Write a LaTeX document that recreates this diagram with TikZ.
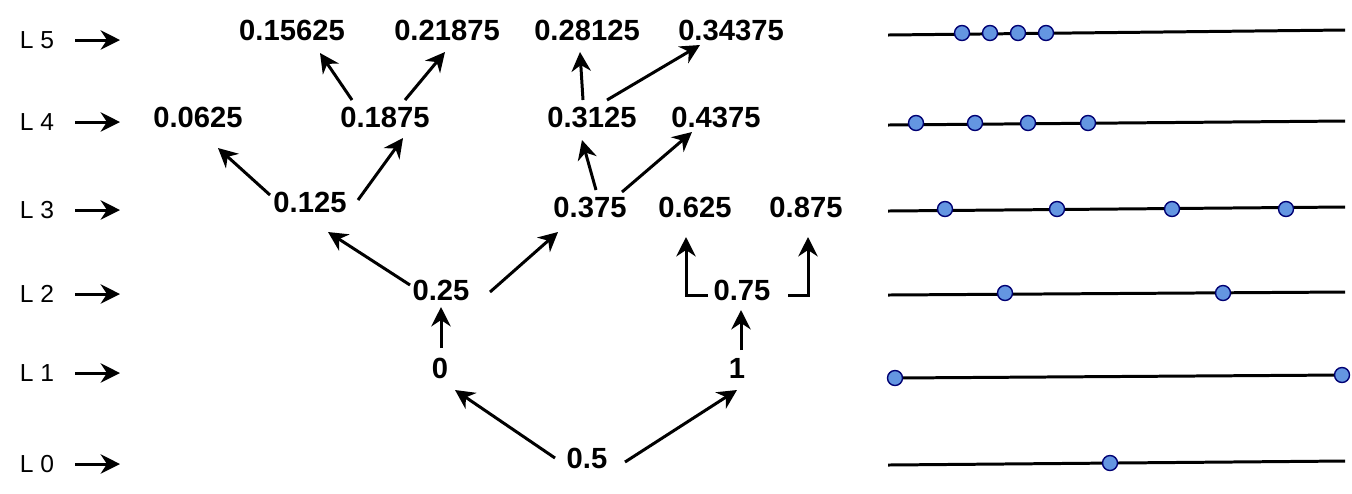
\documentclass[tikz,border=0pt]{standalone}
\usepackage{fontspec}
\usetikzlibrary{arrows.meta}
\setmainfont{Liberation Sans}
\begin{document}
\begin{tikzpicture}[x=0.01cm,y=-0.01cm,
 num/.style={font=\fontsize{8.3pt}{9pt}\selectfont\bfseries},
 lab/.style={font=\fontsize{7pt}{8pt}\selectfont},
 arr/.style={-{Stealth[length=5.5pt,width=5.5pt]},line width=0.85pt},
 ln/.style={line width=0.85pt},
 dot/.style={circle,draw=blue!45!black,fill={rgb,255:red,100;green,150;blue,225},inner sep=0pt,minimum size=0.15cm,line width=0.4pt}]
\useasboundingbox (0,0) rectangle (1352,493);
% level labels
\foreach \n/\y in {5/40,4/122,3/210,2/294,1/373,0/464}{
 \node[lab] (L\n) at (37,\y) {L \n};
 \draw[arr] (75,\y) -- (120,\y);}
% numbers
\node[num] (a1) at (292,30) {0.15625};
\node[num] (a2) at (447,30) {0.21875};
\node[num] (a3) at (587,30) {0.28125};
\node[num] (a4) at (731,30) {0.34375};
\node[num] (b1) at (198,117) {0.0625};
\node[num] (b2) at (385,117) {0.1875};
\node[num] (b3) at (592,117) {0.3125};
\node[num] (b4) at (716,117) {0.4375};
\node[num] (c1) at (310,202) {0.125};
\node[num] (c2) at (590,207) {0.375};
\node[num] (c3) at (695,207) {0.625};
\node[num] (c4) at (806,207) {0.875};
\node[num] (d1) at (441,290) {0.25};
\node[num] (d2) at (742,290) {0.75};
\node[num] (e1) at (440,368) {0};
\node[num] (e2) at (737,368) {1};
\node[num] (f) at (587,458) {0.5};
% arrows
\draw[arr] (555,458) -- (455,390);
\draw[arr] (625,462) -- (737,390);
\draw[arr] (441,348) -- (441,307);
\draw[arr] (741,350) -- (741,310);
\draw[arr] (708,295) -- (686,295) -- (686,237);
\draw[arr] (788,295) -- (808,295) -- (808,237);
\draw[arr] (410,285) -- (328,232);
\draw[arr] (490,292) -- (558,232);
\draw[arr] (270,195) -- (218,148);
\draw[arr] (358,200) -- (403,138);
\draw[arr] (596,190) -- (582,140);
\draw[arr] (622,192) -- (692,132);
\draw[arr] (352,100) -- (320,53);
\draw[arr] (405,100) -- (445,52);
\draw[arr] (583,100) -- (580,52);
\draw[arr] (607,100) -- (700,45);
% number lines
\draw[ln] (888,35) -- (1345,30);
\foreach \x in {962,990,1018,1046} \node[dot] at (\x,33) {};
\draw[ln] (888,125) -- (1345,121);
\foreach \x in {916,975,1028,1088} \node[dot] at (\x,123) {};
\draw[ln] (888,211) -- (1345,207);
\foreach \x in {945,1057,1172,1286} \node[dot] at (\x,209) {};
\draw[ln] (888,295) -- (1345,292);
\foreach \x in {1005,1223} \node[dot] at (\x,293) {};
\draw[ln] (895,378) -- (1342,375);
\node[dot] at (895,378) {};
\node[dot] at (1342,375) {};
\draw[ln] (888,465) -- (1345,461);
\node[dot] at (1110,463) {};
\end{tikzpicture}
\end{document}
